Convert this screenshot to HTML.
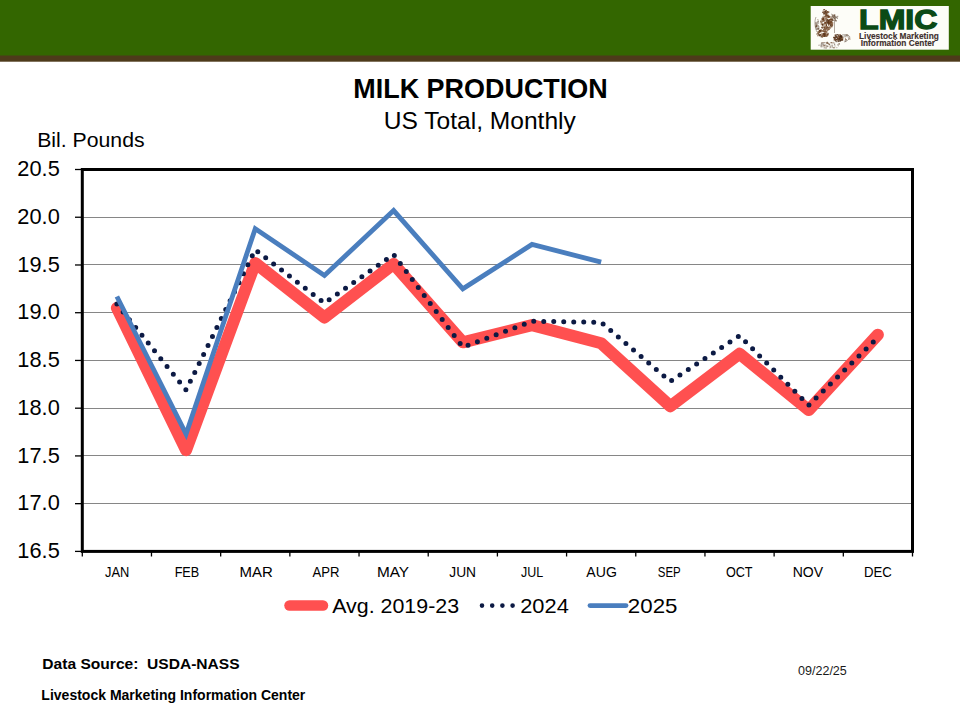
<!DOCTYPE html>
<html><head><meta charset="utf-8"><title>Milk Production</title>
<style>
html,body{margin:0;padding:0;background:#fff;}
body{width:960px;height:720px;overflow:hidden;position:relative;font-family:"Liberation Sans",sans-serif;}
svg{position:absolute;left:0;top:0;display:block;}
</style></head><body>
<svg width="960" height="720" viewBox="0 0 960 720">
<rect x="0" y="0" width="960" height="61.7" fill="#4d3a1a"/>
<rect x="0" y="0" width="960" height="55.5" fill="#336600"/>
<rect x="810.7" y="6" width="138.1" height="43.7" fill="#fdfdf8"/>
<g><rect x="824.5" y="12.5" width="1.5" height="0.8" fill="#8b6446" opacity="0.55"/><rect x="822.7" y="10.1" width="1.0" height="0.8" fill="#6a3c1c" opacity="0.53"/><rect x="826.5" y="12.6" width="1.8" height="0.9" fill="#4e2a12" opacity="0.82"/><rect x="824.4" y="11.1" width="1.5" height="0.8" fill="#4e2a12" opacity="0.52"/><rect x="825.9" y="10.2" width="0.9" height="0.9" fill="#6a3c1c" opacity="0.78"/><rect x="824.6" y="10.6" width="1.4" height="0.9" fill="#4e2a12" opacity="0.77"/><rect x="825.6" y="11.8" width="1.0" height="1.6" fill="#6a3c1c" opacity="0.89"/><rect x="822.4" y="12.1" width="1.2" height="1.0" fill="#4e2a12" opacity="0.85"/><rect x="825.1" y="13.8" width="1.4" height="1.8" fill="#8b6446" opacity="0.72"/><rect x="824.4" y="11.0" width="1.4" height="0.9" fill="#6a3c1c" opacity="0.58"/><rect x="824.4" y="11.5" width="1.6" height="1.7" fill="#8b6446" opacity="0.89"/><rect x="825.7" y="9.9" width="1.2" height="1.3" fill="#6a3c1c" opacity="0.53"/><rect x="826.2" y="12.4" width="1.6" height="0.8" fill="#8b6446" opacity="0.85"/><rect x="823.3" y="9.1" width="1.8" height="1.1" fill="#6a3c1c" opacity="0.94"/><rect x="823.4" y="13.9" width="1.2" height="1.5" fill="#6a3c1c" opacity="0.53"/><rect x="825.1" y="10.4" width="1.0" height="1.2" fill="#6a3c1c" opacity="0.54"/><rect x="823.0" y="12.2" width="1.8" height="1.8" fill="#8b6446" opacity="0.64"/><rect x="823.6" y="12.4" width="1.8" height="1.9" fill="#4e2a12" opacity="0.54"/><rect x="826.3" y="13.5" width="0.7" height="1.8" fill="#4e2a12" opacity="0.63"/><rect x="826.8" y="11.5" width="1.2" height="1.4" fill="#4e2a12" opacity="0.85"/><rect x="822.8" y="11.3" width="1.6" height="0.8" fill="#8b6446" opacity="0.90"/><rect x="823.6" y="12.7" width="0.8" height="1.5" fill="#4e2a12" opacity="0.60"/><rect x="826.9" y="11.3" width="0.8" height="1.5" fill="#4e2a12" opacity="0.50"/><rect x="825.5" y="12.3" width="1.2" height="0.7" fill="#4e2a12" opacity="0.81"/><rect x="825.8" y="12.7" width="1.2" height="1.2" fill="#4e2a12" opacity="0.56"/><rect x="822.2" y="11.7" width="1.3" height="1.1" fill="#4e2a12" opacity="0.55"/><rect x="824.2" y="12.8" width="1.8" height="0.9" fill="#4e2a12" opacity="0.60"/><rect x="826.6" y="11.0" width="1.6" height="1.9" fill="#8b6446" opacity="0.65"/><rect x="824.5" y="10.8" width="1.8" height="1.4" fill="#4e2a12" opacity="0.68"/><rect x="825.4" y="13.7" width="1.4" height="1.5" fill="#8b6446" opacity="0.91"/><rect x="827.6" y="11.2" width="1.7" height="1.8" fill="#8b6446" opacity="0.90"/><rect x="825.6" y="13.5" width="1.7" height="2.0" fill="#6a3c1c" opacity="0.74"/><rect x="825.8" y="13.7" width="1.1" height="1.8" fill="#8b6446" opacity="0.99"/><rect x="826.6" y="11.0" width="1.0" height="1.0" fill="#4e2a12" opacity="0.67"/><rect x="822.2" y="11.8" width="1.5" height="0.7" fill="#8b6446" opacity="0.67"/><rect x="822.6" y="16.3" width="0.9" height="1.2" fill="#6a3c1c" opacity="0.74"/><rect x="828.3" y="28.4" width="1.1" height="1.7" fill="#9a7a60" opacity="0.73"/><rect x="825.9" y="19.7" width="0.9" height="2.0" fill="#4e2a12" opacity="0.58"/><rect x="830.5" y="18.0" width="0.9" height="1.8" fill="#9a7a60" opacity="0.83"/><rect x="823.4" y="26.8" width="0.9" height="0.7" fill="#4e2a12" opacity="0.76"/><rect x="829.6" y="19.9" width="1.8" height="1.8" fill="#6a3c1c" opacity="0.51"/><rect x="827.0" y="27.5" width="1.7" height="1.1" fill="#9a7a60" opacity="0.92"/><rect x="830.8" y="24.6" width="1.9" height="1.6" fill="#9a7a60" opacity="0.91"/><rect x="827.6" y="20.0" width="0.9" height="1.4" fill="#9a7a60" opacity="0.89"/><rect x="821.9" y="17.6" width="0.9" height="0.9" fill="#4e2a12" opacity="0.78"/><rect x="824.0" y="27.1" width="1.4" height="1.7" fill="#4e2a12" opacity="0.94"/><rect x="828.5" y="23.2" width="0.8" height="0.8" fill="#9a7a60" opacity="0.78"/><rect x="826.4" y="14.4" width="1.3" height="1.5" fill="#6a3c1c" opacity="0.85"/><rect x="821.8" y="23.7" width="1.3" height="1.9" fill="#7c5030" opacity="0.96"/><rect x="828.1" y="19.8" width="1.3" height="1.2" fill="#9a7a60" opacity="0.72"/><rect x="828.6" y="23.7" width="0.8" height="1.6" fill="#4e2a12" opacity="0.95"/><rect x="828.9" y="27.6" width="1.6" height="0.9" fill="#6a3c1c" opacity="0.98"/><rect x="827.1" y="29.7" width="1.2" height="1.3" fill="#6a3c1c" opacity="0.58"/><rect x="822.1" y="24.4" width="1.1" height="1.0" fill="#7c5030" opacity="0.55"/><rect x="823.7" y="25.5" width="1.3" height="1.6" fill="#9a7a60" opacity="0.67"/><rect x="822.9" y="18.0" width="0.8" height="2.0" fill="#6a3c1c" opacity="0.99"/><rect x="828.4" y="24.5" width="0.8" height="1.7" fill="#7c5030" opacity="0.88"/><rect x="828.3" y="15.3" width="1.6" height="1.9" fill="#9a7a60" opacity="0.57"/><rect x="830.0" y="19.1" width="1.6" height="0.8" fill="#4e2a12" opacity="0.90"/><rect x="828.3" y="28.9" width="1.0" height="0.7" fill="#4e2a12" opacity="0.90"/><rect x="830.8" y="25.7" width="0.8" height="1.8" fill="#9a7a60" opacity="0.51"/><rect x="829.9" y="21.8" width="1.9" height="1.5" fill="#4e2a12" opacity="0.76"/><rect x="826.1" y="24.6" width="0.9" height="0.8" fill="#6a3c1c" opacity="0.97"/><rect x="823.0" y="17.8" width="1.0" height="1.3" fill="#6a3c1c" opacity="0.64"/><rect x="828.0" y="14.5" width="0.7" height="0.7" fill="#6a3c1c" opacity="0.76"/><rect x="826.1" y="27.3" width="1.6" height="1.5" fill="#9a7a60" opacity="0.77"/><rect x="830.5" y="16.9" width="1.1" height="1.0" fill="#6a3c1c" opacity="0.67"/><rect x="828.5" y="16.2" width="1.5" height="1.2" fill="#7c5030" opacity="0.99"/><rect x="826.4" y="21.2" width="1.5" height="1.8" fill="#9a7a60" opacity="0.58"/><rect x="830.7" y="25.7" width="1.8" height="1.6" fill="#7c5030" opacity="0.80"/><rect x="825.6" y="20.4" width="0.9" height="1.0" fill="#4e2a12" opacity="0.63"/><rect x="831.7" y="20.1" width="1.4" height="1.0" fill="#7c5030" opacity="0.61"/><rect x="827.4" y="26.2" width="0.8" height="1.1" fill="#6a3c1c" opacity="0.62"/><rect x="826.3" y="19.6" width="1.8" height="0.9" fill="#4e2a12" opacity="0.70"/><rect x="824.5" y="28.0" width="0.8" height="1.9" fill="#6a3c1c" opacity="0.83"/><rect x="824.8" y="14.7" width="1.2" height="1.1" fill="#9a7a60" opacity="0.57"/><rect x="825.2" y="15.7" width="0.8" height="1.8" fill="#9a7a60" opacity="0.87"/><rect x="826.9" y="19.2" width="1.4" height="1.4" fill="#4e2a12" opacity="0.91"/><rect x="821.1" y="18.2" width="1.6" height="1.6" fill="#6a3c1c" opacity="0.54"/><rect x="830.6" y="23.7" width="1.9" height="1.2" fill="#9a7a60" opacity="0.78"/><rect x="822.7" y="17.4" width="1.6" height="1.3" fill="#4e2a12" opacity="0.73"/><rect x="831.2" y="25.3" width="1.9" height="0.8" fill="#4e2a12" opacity="0.87"/><rect x="820.7" y="23.2" width="1.8" height="1.0" fill="#6a3c1c" opacity="0.62"/><rect x="823.6" y="17.6" width="1.8" height="0.8" fill="#7c5030" opacity="0.88"/><rect x="822.4" y="17.7" width="0.8" height="0.9" fill="#7c5030" opacity="0.83"/><rect x="824.3" y="16.1" width="0.9" height="1.3" fill="#9a7a60" opacity="0.63"/><rect x="823.7" y="16.1" width="1.6" height="1.1" fill="#7c5030" opacity="0.73"/><rect x="824.0" y="22.6" width="1.9" height="1.0" fill="#4e2a12" opacity="0.97"/><rect x="830.0" y="22.6" width="1.8" height="2.0" fill="#9a7a60" opacity="1.00"/><rect x="821.6" y="27.0" width="1.9" height="0.8" fill="#4e2a12" opacity="0.57"/><rect x="820.2" y="20.8" width="0.9" height="1.8" fill="#7c5030" opacity="0.94"/><rect x="825.2" y="18.3" width="1.9" height="1.3" fill="#4e2a12" opacity="0.58"/><rect x="830.7" y="20.0" width="1.2" height="1.6" fill="#9a7a60" opacity="0.67"/><rect x="823.8" y="28.7" width="0.7" height="1.7" fill="#9a7a60" opacity="0.56"/><rect x="830.5" y="19.0" width="1.9" height="1.1" fill="#7c5030" opacity="0.53"/><rect x="821.7" y="26.8" width="0.8" height="1.9" fill="#7c5030" opacity="0.93"/><rect x="825.7" y="23.8" width="1.6" height="1.5" fill="#6a3c1c" opacity="0.62"/><rect x="825.6" y="27.7" width="0.9" height="1.2" fill="#9a7a60" opacity="0.94"/><rect x="827.8" y="16.1" width="1.9" height="1.9" fill="#6a3c1c" opacity="0.86"/><rect x="830.9" y="24.1" width="1.3" height="1.7" fill="#7c5030" opacity="0.74"/><rect x="829.8" y="18.9" width="0.9" height="1.2" fill="#7c5030" opacity="0.65"/><rect x="825.6" y="14.1" width="1.0" height="1.6" fill="#7c5030" opacity="0.74"/><rect x="825.0" y="19.6" width="1.5" height="0.8" fill="#9a7a60" opacity="0.78"/><rect x="822.7" y="23.3" width="1.7" height="1.3" fill="#6a3c1c" opacity="0.62"/><rect x="828.0" y="27.3" width="1.1" height="1.2" fill="#6a3c1c" opacity="0.94"/><rect x="826.0" y="16.9" width="1.2" height="1.4" fill="#9a7a60" opacity="0.64"/><rect x="826.1" y="16.4" width="1.4" height="1.2" fill="#6a3c1c" opacity="0.55"/><rect x="829.0" y="19.0" width="1.5" height="1.3" fill="#7c5030" opacity="0.92"/><rect x="826.6" y="21.2" width="0.7" height="1.6" fill="#9a7a60" opacity="0.98"/><rect x="824.4" y="22.1" width="1.9" height="1.9" fill="#9a7a60" opacity="0.99"/><rect x="826.0" y="24.6" width="0.9" height="1.4" fill="#4e2a12" opacity="0.97"/><rect x="825.1" y="15.7" width="1.7" height="1.3" fill="#4e2a12" opacity="0.50"/><rect x="829.2" y="26.3" width="0.7" height="1.6" fill="#6a3c1c" opacity="0.81"/><rect x="822.1" y="21.1" width="1.7" height="0.8" fill="#7c5030" opacity="0.76"/><rect x="822.8" y="19.5" width="1.0" height="1.5" fill="#4e2a12" opacity="0.77"/><rect x="829.2" y="21.9" width="1.1" height="1.8" fill="#6a3c1c" opacity="0.74"/><rect x="826.3" y="26.0" width="1.9" height="1.6" fill="#7c5030" opacity="0.53"/><rect x="827.9" y="29.1" width="1.5" height="0.8" fill="#6a3c1c" opacity="0.83"/><rect x="828.5" y="20.3" width="0.7" height="1.1" fill="#9a7a60" opacity="0.68"/><rect x="825.6" y="22.4" width="1.1" height="1.8" fill="#4e2a12" opacity="0.60"/><rect x="829.3" y="21.2" width="1.8" height="1.0" fill="#6a3c1c" opacity="0.63"/><rect x="827.5" y="20.3" width="1.5" height="1.5" fill="#6a3c1c" opacity="0.74"/><rect x="827.2" y="21.0" width="1.5" height="1.9" fill="#4e2a12" opacity="0.61"/><rect x="828.2" y="21.5" width="0.8" height="0.8" fill="#9a7a60" opacity="0.72"/><rect x="825.2" y="17.6" width="0.8" height="0.8" fill="#6a3c1c" opacity="0.66"/><rect x="828.3" y="29.1" width="1.7" height="0.7" fill="#9a7a60" opacity="0.92"/><rect x="830.0" y="21.5" width="0.8" height="0.8" fill="#4e2a12" opacity="0.68"/><rect x="828.0" y="21.2" width="2.0" height="1.0" fill="#7c5030" opacity="0.88"/><rect x="824.1" y="28.7" width="0.8" height="1.6" fill="#6a3c1c" opacity="0.69"/><rect x="828.3" y="20.3" width="1.2" height="1.9" fill="#4e2a12" opacity="0.82"/><rect x="826.1" y="28.3" width="1.2" height="1.2" fill="#9a7a60" opacity="0.53"/><rect x="828.7" y="20.0" width="1.7" height="1.9" fill="#7c5030" opacity="0.68"/><rect x="823.0" y="28.7" width="0.8" height="1.7" fill="#7c5030" opacity="0.96"/><rect x="824.5" y="28.5" width="1.5" height="1.7" fill="#4e2a12" opacity="0.51"/><rect x="826.4" y="27.5" width="1.9" height="1.9" fill="#9a7a60" opacity="0.89"/><rect x="830.6" y="18.3" width="0.9" height="1.3" fill="#4e2a12" opacity="0.90"/><rect x="825.6" y="14.8" width="1.7" height="1.5" fill="#7c5030" opacity="0.93"/><rect x="820.8" y="23.7" width="1.5" height="1.4" fill="#9a7a60" opacity="0.88"/><rect x="826.0" y="24.0" width="0.7" height="1.4" fill="#7c5030" opacity="0.58"/><rect x="824.3" y="23.2" width="0.8" height="1.5" fill="#6a3c1c" opacity="0.55"/><rect x="820.9" y="22.1" width="1.3" height="1.0" fill="#9a7a60" opacity="0.73"/><rect x="828.3" y="19.6" width="1.4" height="1.7" fill="#4e2a12" opacity="0.89"/><rect x="825.1" y="26.1" width="1.0" height="1.0" fill="#7c5030" opacity="0.60"/><rect x="826.0" y="26.0" width="0.9" height="1.8" fill="#6a3c1c" opacity="0.66"/><rect x="821.3" y="26.8" width="1.4" height="1.0" fill="#4e2a12" opacity="0.83"/><rect x="827.9" y="21.9" width="1.3" height="1.8" fill="#9a7a60" opacity="0.96"/><rect x="829.1" y="23.1" width="0.9" height="0.9" fill="#6a3c1c" opacity="0.97"/><rect x="822.1" y="27.4" width="1.3" height="1.0" fill="#4e2a12" opacity="0.55"/><rect x="822.1" y="18.4" width="1.0" height="1.2" fill="#6a3c1c" opacity="0.52"/><rect x="827.2" y="22.0" width="1.7" height="1.9" fill="#4e2a12" opacity="0.91"/><rect x="822.9" y="24.6" width="1.5" height="0.8" fill="#4e2a12" opacity="0.90"/><rect x="824.6" y="21.4" width="0.8" height="1.2" fill="#6a3c1c" opacity="0.82"/><rect x="828.0" y="23.8" width="1.6" height="1.2" fill="#7c5030" opacity="0.83"/><rect x="824.8" y="22.9" width="1.7" height="1.8" fill="#9a7a60" opacity="0.71"/><rect x="829.9" y="16.0" width="1.2" height="1.0" fill="#9a7a60" opacity="0.60"/><rect x="831.7" y="22.3" width="1.3" height="1.8" fill="#9a7a60" opacity="0.79"/><rect x="822.5" y="27.3" width="0.9" height="0.8" fill="#6a3c1c" opacity="0.82"/><rect x="827.5" y="20.7" width="1.5" height="1.2" fill="#6a3c1c" opacity="0.57"/><rect x="825.1" y="27.6" width="1.9" height="0.8" fill="#9a7a60" opacity="0.88"/><rect x="827.4" y="15.1" width="1.1" height="1.8" fill="#4e2a12" opacity="0.99"/><rect x="824.6" y="22.2" width="1.9" height="1.2" fill="#6a3c1c" opacity="0.82"/><rect x="828.9" y="17.1" width="1.5" height="1.0" fill="#9a7a60" opacity="0.59"/><rect x="826.8" y="27.0" width="1.4" height="1.2" fill="#4e2a12" opacity="0.57"/><rect x="831.3" y="20.7" width="1.0" height="1.8" fill="#4e2a12" opacity="0.83"/><rect x="824.3" y="26.5" width="1.3" height="1.8" fill="#7c5030" opacity="0.82"/><rect x="824.9" y="25.7" width="1.2" height="1.2" fill="#9a7a60" opacity="0.59"/><rect x="832.0" y="22.2" width="1.3" height="1.3" fill="#9a7a60" opacity="0.92"/><rect x="827.4" y="17.3" width="0.8" height="1.2" fill="#7c5030" opacity="0.55"/><rect x="822.0" y="24.0" width="0.8" height="1.5" fill="#4e2a12" opacity="0.96"/><rect x="824.0" y="28.3" width="0.8" height="1.7" fill="#9a7a60" opacity="0.83"/><rect x="826.2" y="20.7" width="0.8" height="1.5" fill="#4e2a12" opacity="0.60"/><rect x="830.2" y="21.4" width="1.9" height="1.9" fill="#6a3c1c" opacity="0.84"/><rect x="825.5" y="18.3" width="1.8" height="1.5" fill="#7c5030" opacity="0.58"/><rect x="828.5" y="19.5" width="1.8" height="0.9" fill="#9a7a60" opacity="0.60"/><rect x="825.7" y="27.7" width="1.1" height="0.7" fill="#6a3c1c" opacity="0.70"/><rect x="823.9" y="18.8" width="1.1" height="1.2" fill="#7c5030" opacity="0.56"/><rect x="821.3" y="20.8" width="1.2" height="1.8" fill="#4e2a12" opacity="0.63"/><rect x="820.6" y="20.4" width="1.7" height="1.2" fill="#9a7a60" opacity="1.00"/><rect x="822.8" y="19.8" width="1.7" height="1.3" fill="#6a3c1c" opacity="0.81"/><rect x="829.2" y="20.9" width="1.4" height="1.1" fill="#7c5030" opacity="0.87"/><rect x="825.9" y="18.2" width="1.1" height="1.5" fill="#9a7a60" opacity="0.76"/><rect x="827.7" y="20.2" width="1.0" height="1.5" fill="#4e2a12" opacity="0.53"/><rect x="823.0" y="20.2" width="1.4" height="1.4" fill="#9a7a60" opacity="0.79"/><rect x="823.7" y="20.1" width="1.5" height="1.3" fill="#6a3c1c" opacity="0.51"/><rect x="827.6" y="15.6" width="1.3" height="0.8" fill="#6a3c1c" opacity="0.94"/><rect x="826.8" y="17.0" width="1.0" height="0.7" fill="#7c5030" opacity="0.80"/><rect x="821.9" y="19.1" width="1.4" height="1.3" fill="#6a3c1c" opacity="0.95"/><rect x="830.2" y="23.6" width="1.2" height="1.0" fill="#4e2a12" opacity="0.96"/><rect x="829.7" y="25.8" width="1.6" height="1.0" fill="#9a7a60" opacity="0.60"/><rect x="822.7" y="18.4" width="1.5" height="1.8" fill="#6a3c1c" opacity="0.75"/><rect x="830.4" y="24.5" width="2.0" height="1.6" fill="#9a7a60" opacity="0.86"/><rect x="831.5" y="22.3" width="1.7" height="1.3" fill="#9a7a60" opacity="0.59"/><rect x="829.1" y="21.9" width="1.5" height="0.9" fill="#7c5030" opacity="0.86"/><rect x="825.6" y="27.9" width="1.3" height="1.7" fill="#7c5030" opacity="0.65"/><rect x="831.1" y="18.7" width="0.8" height="1.4" fill="#6a3c1c" opacity="0.63"/><rect x="826.5" y="28.9" width="1.9" height="1.7" fill="#7c5030" opacity="0.60"/><rect x="822.4" y="26.0" width="1.2" height="1.8" fill="#9a7a60" opacity="0.74"/><rect x="825.5" y="21.9" width="0.7" height="1.9" fill="#6a3c1c" opacity="0.79"/><rect x="825.0" y="25.4" width="1.5" height="0.8" fill="#6a3c1c" opacity="0.57"/><rect x="827.9" y="22.4" width="1.9" height="1.1" fill="#6a3c1c" opacity="0.85"/><rect x="828.2" y="22.6" width="1.5" height="0.8" fill="#4e2a12" opacity="0.87"/><rect x="830.2" y="24.5" width="1.2" height="1.8" fill="#4e2a12" opacity="0.94"/><rect x="826.2" y="15.3" width="1.2" height="1.0" fill="#6a3c1c" opacity="0.56"/><rect x="831.4" y="23.6" width="1.8" height="1.5" fill="#7c5030" opacity="0.74"/><rect x="829.6" y="27.3" width="1.5" height="1.1" fill="#7c5030" opacity="0.71"/><rect x="824.8" y="33.3" width="1.1" height="1.6" fill="#6a3c1c" opacity="0.96"/><rect x="822.5" y="29.9" width="1.3" height="1.1" fill="#8b6446" opacity="0.52"/><rect x="818.9" y="34.4" width="1.7" height="1.2" fill="#8b6446" opacity="0.52"/><rect x="817.7" y="31.6" width="1.8" height="1.4" fill="#6a3c1c" opacity="0.59"/><rect x="824.5" y="33.0" width="1.7" height="2.0" fill="#4e2a12" opacity="0.67"/><rect x="825.8" y="34.9" width="1.8" height="2.0" fill="#8b6446" opacity="0.67"/><rect x="823.4" y="31.2" width="1.9" height="1.1" fill="#4e2a12" opacity="0.97"/><rect x="822.3" y="34.6" width="1.9" height="1.7" fill="#6a3c1c" opacity="0.89"/><rect x="820.4" y="29.6" width="1.5" height="1.2" fill="#6a3c1c" opacity="0.96"/><rect x="825.7" y="30.8" width="1.2" height="1.5" fill="#6a3c1c" opacity="0.60"/><rect x="821.6" y="36.8" width="1.4" height="1.2" fill="#8b6446" opacity="0.62"/><rect x="818.1" y="33.7" width="1.7" height="1.7" fill="#8b6446" opacity="0.52"/><rect x="818.5" y="31.6" width="1.8" height="1.3" fill="#8b6446" opacity="0.87"/><rect x="823.8" y="35.3" width="1.7" height="1.5" fill="#4e2a12" opacity="0.67"/><rect x="819.1" y="30.4" width="1.4" height="1.0" fill="#8b6446" opacity="0.91"/><rect x="818.5" y="30.7" width="2.0" height="1.6" fill="#8b6446" opacity="0.76"/><rect x="823.7" y="34.9" width="0.9" height="2.0" fill="#8b6446" opacity="1.00"/><rect x="824.3" y="35.8" width="1.0" height="0.9" fill="#4e2a12" opacity="0.90"/><rect x="821.6" y="30.4" width="1.0" height="1.5" fill="#4e2a12" opacity="0.64"/><rect x="824.8" y="31.2" width="0.7" height="1.8" fill="#6a3c1c" opacity="0.85"/><rect x="817.6" y="33.0" width="1.3" height="0.9" fill="#8b6446" opacity="0.87"/><rect x="824.7" y="33.1" width="1.8" height="1.6" fill="#8b6446" opacity="0.87"/><rect x="819.7" y="33.9" width="1.6" height="1.8" fill="#8b6446" opacity="0.85"/><rect x="824.7" y="30.4" width="1.5" height="1.3" fill="#6a3c1c" opacity="0.63"/><rect x="820.4" y="29.4" width="1.0" height="1.2" fill="#8b6446" opacity="0.81"/><rect x="822.0" y="35.6" width="1.3" height="1.5" fill="#6a3c1c" opacity="0.76"/><rect x="819.3" y="29.8" width="1.9" height="1.1" fill="#4e2a12" opacity="0.69"/><rect x="816.6" y="33.3" width="0.7" height="1.4" fill="#4e2a12" opacity="0.86"/><rect x="824.3" y="32.5" width="1.2" height="1.8" fill="#6a3c1c" opacity="0.77"/><rect x="821.2" y="30.2" width="1.5" height="1.8" fill="#8b6446" opacity="0.67"/><rect x="821.8" y="30.3" width="2.0" height="0.9" fill="#8b6446" opacity="0.88"/><rect x="825.9" y="35.8" width="1.2" height="0.8" fill="#6a3c1c" opacity="0.69"/><rect x="823.4" y="33.4" width="1.9" height="1.5" fill="#8b6446" opacity="0.68"/><rect x="821.8" y="34.9" width="1.7" height="1.9" fill="#8b6446" opacity="0.99"/><rect x="827.4" y="32.9" width="1.3" height="0.9" fill="#4e2a12" opacity="0.90"/><rect x="819.5" y="31.0" width="1.4" height="1.0" fill="#4e2a12" opacity="0.68"/><rect x="818.8" y="30.2" width="1.8" height="1.3" fill="#6a3c1c" opacity="0.88"/><rect x="819.1" y="30.1" width="1.3" height="1.7" fill="#4e2a12" opacity="0.63"/><rect x="820.0" y="34.4" width="1.3" height="0.9" fill="#4e2a12" opacity="0.90"/><rect x="823.0" y="30.7" width="1.6" height="1.1" fill="#6a3c1c" opacity="0.71"/><rect x="819.1" y="30.5" width="1.2" height="1.9" fill="#6a3c1c" opacity="0.53"/><rect x="824.5" y="29.6" width="1.7" height="0.9" fill="#6a3c1c" opacity="0.82"/><rect x="822.6" y="33.0" width="1.9" height="1.6" fill="#6a3c1c" opacity="0.80"/><rect x="817.5" y="31.2" width="0.9" height="1.3" fill="#4e2a12" opacity="0.60"/><rect x="818.7" y="34.7" width="1.5" height="1.6" fill="#4e2a12" opacity="0.83"/><rect x="825.8" y="30.8" width="1.8" height="1.0" fill="#8b6446" opacity="0.61"/><rect x="826.4" y="34.7" width="1.6" height="0.9" fill="#4e2a12" opacity="0.63"/><rect x="822.2" y="34.5" width="1.3" height="0.8" fill="#6a3c1c" opacity="0.95"/><rect x="821.2" y="31.1" width="0.9" height="1.5" fill="#8b6446" opacity="0.50"/><rect x="824.0" y="30.7" width="1.4" height="1.6" fill="#6a3c1c" opacity="0.69"/><rect x="817.3" y="34.9" width="0.8" height="1.5" fill="#8b6446" opacity="0.82"/><rect x="823.2" y="33.1" width="1.7" height="2.0" fill="#4e2a12" opacity="0.76"/><rect x="816.8" y="33.4" width="0.7" height="1.6" fill="#8b6446" opacity="0.56"/><rect x="825.7" y="34.8" width="1.1" height="1.7" fill="#8b6446" opacity="0.89"/><rect x="822.9" y="35.6" width="1.2" height="1.4" fill="#6a3c1c" opacity="0.65"/><rect x="823.6" y="30.8" width="1.4" height="1.1" fill="#8b6446" opacity="0.67"/><rect x="823.1" y="35.7" width="0.9" height="1.0" fill="#8b6446" opacity="0.65"/><rect x="818.2" y="31.4" width="1.7" height="0.8" fill="#8b6446" opacity="0.78"/><rect x="818.5" y="34.7" width="1.2" height="0.8" fill="#4e2a12" opacity="0.59"/><rect x="825.8" y="31.5" width="1.6" height="1.7" fill="#8b6446" opacity="0.81"/><rect x="818.8" y="30.9" width="1.6" height="1.5" fill="#8b6446" opacity="0.54"/><rect x="826.2" y="33.8" width="1.5" height="0.9" fill="#8b6446" opacity="0.59"/><rect x="826.7" y="33.8" width="1.9" height="1.6" fill="#6a3c1c" opacity="0.94"/><rect x="824.0" y="34.7" width="1.6" height="1.8" fill="#4e2a12" opacity="0.71"/><rect x="820.5" y="35.4" width="1.5" height="1.9" fill="#4e2a12" opacity="0.75"/><rect x="817.1" y="32.5" width="1.7" height="1.2" fill="#8b6446" opacity="0.96"/><rect x="821.4" y="33.2" width="1.2" height="1.5" fill="#8b6446" opacity="0.99"/><rect x="818.5" y="33.4" width="0.8" height="1.5" fill="#4e2a12" opacity="0.95"/><rect x="819.5" y="31.1" width="0.7" height="1.6" fill="#4e2a12" opacity="0.61"/><rect x="824.7" y="34.9" width="1.1" height="1.4" fill="#6a3c1c" opacity="0.87"/><rect x="837.9" y="38.3" width="1.7" height="1.6" fill="#3e220e" opacity="0.86"/><rect x="840.6" y="39.0" width="1.6" height="1.3" fill="#5c3418" opacity="0.96"/><rect x="838.3" y="37.7" width="0.8" height="1.8" fill="#7c5030" opacity="0.91"/><rect x="839.7" y="38.5" width="1.6" height="0.9" fill="#5c3418" opacity="0.80"/><rect x="835.7" y="40.9" width="1.6" height="1.3" fill="#3e220e" opacity="0.57"/><rect x="838.3" y="35.3" width="1.5" height="1.5" fill="#5c3418" opacity="0.74"/><rect x="838.0" y="35.0" width="1.1" height="1.7" fill="#5c3418" opacity="0.65"/><rect x="841.6" y="38.9" width="1.6" height="1.8" fill="#5c3418" opacity="0.93"/><rect x="837.4" y="37.0" width="0.9" height="1.8" fill="#7c5030" opacity="0.71"/><rect x="839.6" y="36.0" width="1.6" height="1.5" fill="#3e220e" opacity="0.90"/><rect x="837.5" y="37.7" width="1.0" height="1.2" fill="#7c5030" opacity="0.96"/><rect x="837.8" y="34.1" width="1.1" height="0.9" fill="#7c5030" opacity="0.57"/><rect x="841.5" y="37.0" width="1.4" height="1.7" fill="#5c3418" opacity="0.67"/><rect x="840.4" y="38.9" width="1.7" height="1.0" fill="#7c5030" opacity="0.97"/><rect x="837.9" y="40.4" width="1.6" height="1.3" fill="#3e220e" opacity="0.96"/><rect x="837.1" y="37.3" width="1.2" height="1.4" fill="#7c5030" opacity="0.90"/><rect x="837.8" y="35.7" width="1.5" height="1.9" fill="#7c5030" opacity="0.66"/><rect x="835.5" y="37.4" width="1.0" height="0.8" fill="#7c5030" opacity="0.64"/><rect x="835.1" y="36.4" width="1.7" height="1.8" fill="#3e220e" opacity="0.52"/><rect x="840.3" y="37.5" width="0.8" height="1.5" fill="#3e220e" opacity="0.58"/><rect x="835.3" y="36.2" width="1.4" height="0.7" fill="#3e220e" opacity="0.60"/><rect x="839.8" y="35.4" width="1.5" height="1.0" fill="#5c3418" opacity="0.71"/><rect x="841.2" y="36.4" width="1.8" height="2.0" fill="#5c3418" opacity="0.92"/><rect x="835.1" y="40.7" width="1.2" height="0.7" fill="#3e220e" opacity="0.78"/><rect x="839.6" y="35.6" width="1.9" height="1.9" fill="#3e220e" opacity="0.93"/><rect x="834.7" y="34.7" width="1.6" height="0.8" fill="#5c3418" opacity="0.78"/><rect x="834.7" y="34.6" width="1.6" height="1.2" fill="#5c3418" opacity="0.92"/><rect x="836.0" y="38.8" width="1.6" height="0.9" fill="#5c3418" opacity="0.97"/><rect x="840.6" y="38.5" width="0.7" height="1.9" fill="#5c3418" opacity="0.89"/><rect x="836.6" y="34.5" width="2.0" height="0.8" fill="#3e220e" opacity="0.66"/><rect x="839.5" y="37.6" width="1.7" height="1.5" fill="#5c3418" opacity="0.88"/><rect x="839.5" y="38.8" width="1.0" height="0.9" fill="#5c3418" opacity="0.69"/><rect x="833.7" y="38.7" width="1.9" height="1.9" fill="#5c3418" opacity="0.86"/><rect x="837.8" y="38.2" width="1.9" height="1.0" fill="#7c5030" opacity="0.93"/><rect x="838.8" y="36.6" width="1.3" height="0.8" fill="#5c3418" opacity="0.92"/><rect x="835.4" y="35.7" width="1.1" height="1.8" fill="#5c3418" opacity="0.56"/><rect x="835.8" y="39.1" width="1.7" height="0.9" fill="#5c3418" opacity="0.78"/><rect x="840.1" y="40.3" width="1.0" height="1.2" fill="#3e220e" opacity="0.51"/><rect x="835.3" y="36.6" width="1.7" height="1.0" fill="#3e220e" opacity="0.66"/><rect x="838.7" y="36.8" width="2.0" height="0.8" fill="#7c5030" opacity="0.96"/><rect x="833.7" y="36.2" width="0.9" height="1.7" fill="#5c3418" opacity="0.72"/><rect x="837.3" y="39.4" width="1.0" height="1.2" fill="#5c3418" opacity="0.95"/><rect x="841.1" y="38.6" width="1.1" height="2.0" fill="#3e220e" opacity="0.72"/><rect x="834.3" y="37.4" width="1.3" height="1.7" fill="#7c5030" opacity="0.64"/><rect x="836.9" y="38.1" width="1.2" height="1.1" fill="#3e220e" opacity="0.57"/><rect x="839.2" y="40.5" width="1.6" height="1.0" fill="#3e220e" opacity="0.91"/><rect x="840.5" y="35.4" width="1.7" height="0.9" fill="#3e220e" opacity="0.81"/><rect x="836.4" y="34.2" width="1.5" height="1.0" fill="#3e220e" opacity="0.85"/><rect x="833.4" y="37.1" width="1.9" height="1.4" fill="#5c3418" opacity="0.67"/><rect x="839.8" y="34.5" width="1.3" height="0.7" fill="#5c3418" opacity="0.57"/><rect x="836.4" y="35.9" width="1.4" height="2.0" fill="#3e220e" opacity="0.58"/><rect x="835.1" y="39.6" width="0.7" height="1.4" fill="#5c3418" opacity="0.98"/><rect x="839.9" y="38.5" width="1.0" height="1.8" fill="#5c3418" opacity="0.89"/><rect x="839.8" y="35.4" width="1.9" height="1.1" fill="#3e220e" opacity="0.98"/><rect x="834.3" y="37.6" width="1.4" height="1.4" fill="#3e220e" opacity="0.62"/><rect x="840.5" y="39.1" width="0.9" height="1.1" fill="#7c5030" opacity="0.91"/><rect x="838.9" y="37.7" width="1.6" height="1.0" fill="#3e220e" opacity="0.92"/><rect x="835.5" y="35.5" width="1.0" height="1.3" fill="#5c3418" opacity="0.93"/><rect x="837.3" y="36.7" width="0.9" height="1.3" fill="#7c5030" opacity="0.88"/><rect x="838.7" y="38.3" width="1.8" height="1.4" fill="#3e220e" opacity="0.93"/><rect x="839.5" y="39.8" width="1.7" height="0.9" fill="#3e220e" opacity="0.97"/><rect x="835.3" y="39.1" width="1.8" height="1.4" fill="#5c3418" opacity="0.99"/><rect x="840.1" y="38.2" width="1.2" height="1.8" fill="#7c5030" opacity="0.72"/><rect x="841.5" y="37.1" width="1.9" height="1.8" fill="#7c5030" opacity="0.53"/><rect x="833.1" y="37.1" width="1.9" height="1.0" fill="#5c3418" opacity="0.83"/><rect x="839.0" y="37.6" width="0.9" height="1.1" fill="#3e220e" opacity="0.75"/><rect x="839.2" y="37.7" width="2.0" height="1.7" fill="#5c3418" opacity="0.82"/><rect x="839.0" y="34.2" width="1.9" height="0.7" fill="#7c5030" opacity="0.81"/><rect x="840.6" y="36.0" width="1.5" height="1.7" fill="#3e220e" opacity="0.81"/><rect x="837.5" y="40.2" width="1.3" height="1.9" fill="#5c3418" opacity="0.56"/><rect x="845.1" y="38.2" width="0.8" height="1.9" fill="#8b6446" opacity="0.95"/><rect x="848.7" y="38.4" width="1.9" height="1.3" fill="#8b6446" opacity="0.57"/><rect x="845.3" y="39.1" width="1.1" height="1.0" fill="#9a9088" opacity="0.87"/><rect x="845.4" y="39.3" width="1.6" height="1.0" fill="#b0a69c" opacity="0.60"/><rect x="845.3" y="34.7" width="1.4" height="1.5" fill="#b0a69c" opacity="0.91"/><rect x="848.3" y="37.4" width="0.9" height="1.4" fill="#8b6446" opacity="0.70"/><rect x="847.4" y="36.4" width="1.9" height="1.1" fill="#b0a69c" opacity="0.75"/><rect x="845.1" y="40.4" width="1.1" height="1.7" fill="#9a9088" opacity="0.78"/><rect x="844.1" y="35.7" width="1.6" height="1.4" fill="#b0a69c" opacity="0.68"/><rect x="846.2" y="34.5" width="2.0" height="1.6" fill="#9a9088" opacity="0.71"/><rect x="845.3" y="35.9" width="1.0" height="1.5" fill="#b0a69c" opacity="0.91"/><rect x="842.6" y="36.7" width="1.7" height="1.7" fill="#b0a69c" opacity="0.63"/><rect x="843.8" y="35.0" width="1.6" height="1.2" fill="#9a9088" opacity="0.50"/><rect x="846.3" y="34.3" width="1.3" height="2.0" fill="#8b6446" opacity="0.57"/><rect x="847.2" y="35.5" width="1.5" height="0.8" fill="#b0a69c" opacity="0.85"/><rect x="845.4" y="39.0" width="1.2" height="1.4" fill="#8b6446" opacity="0.69"/><rect x="844.4" y="39.8" width="1.8" height="1.3" fill="#b0a69c" opacity="0.65"/><rect x="842.5" y="36.3" width="1.3" height="1.2" fill="#9a9088" opacity="0.54"/><rect x="817.3" y="22.2" width="1.8" height="1.8" fill="#a0948a" opacity="0.60"/><rect x="815.1" y="26.8" width="0.7" height="0.8" fill="#6a4a30" opacity="0.95"/><rect x="816.1" y="28.5" width="1.1" height="1.5" fill="#a0948a" opacity="0.76"/><rect x="815.2" y="23.4" width="1.2" height="1.2" fill="#6a4a30" opacity="0.84"/><rect x="816.3" y="24.2" width="0.8" height="1.0" fill="#a0948a" opacity="0.69"/><rect x="815.5" y="26.8" width="1.4" height="1.8" fill="#a0948a" opacity="0.74"/><rect x="815.3" y="25.9" width="2.0" height="1.1" fill="#6a4a30" opacity="0.87"/><rect x="817.3" y="26.1" width="1.2" height="0.8" fill="#a0948a" opacity="0.76"/><rect x="817.7" y="27.9" width="1.6" height="1.8" fill="#6a4a30" opacity="0.94"/><rect x="815.9" y="25.2" width="1.1" height="1.4" fill="#6a4a30" opacity="0.95"/><rect x="816.2" y="24.8" width="1.4" height="0.8" fill="#6a4a30" opacity="1.00"/><rect x="816.3" y="23.0" width="1.2" height="1.7" fill="#a0948a" opacity="0.86"/><rect x="815.1" y="22.0" width="1.2" height="0.8" fill="#8a7a6c" opacity="0.83"/><rect x="816.9" y="28.3" width="1.4" height="1.0" fill="#6a4a30" opacity="0.95"/><rect x="815.9" y="23.8" width="1.0" height="1.5" fill="#8a7a6c" opacity="0.58"/><rect x="816.5" y="21.9" width="0.8" height="0.9" fill="#6a4a30" opacity="0.75"/><rect x="815.5" y="24.9" width="1.7" height="1.5" fill="#6a4a30" opacity="0.89"/><rect x="815.9" y="28.9" width="1.2" height="0.9" fill="#a0948a" opacity="0.81"/><rect x="817.5" y="19.1" width="0.8" height="0.9" fill="#6a4a30" opacity="0.69"/><rect x="817.9" y="26.1" width="1.5" height="1.9" fill="#a0948a" opacity="0.53"/><rect x="816.6" y="27.1" width="0.9" height="1.5" fill="#8a7a6c" opacity="0.66"/><rect x="817.7" y="20.5" width="1.1" height="1.5" fill="#a0948a" opacity="0.99"/><rect x="817.7" y="26.2" width="1.6" height="1.5" fill="#a0948a" opacity="0.65"/><rect x="817.3" y="20.8" width="1.7" height="1.0" fill="#8a7a6c" opacity="0.58"/><rect x="816.4" y="24.4" width="1.8" height="1.2" fill="#a0948a" opacity="0.56"/><rect x="815.5" y="23.2" width="1.2" height="0.8" fill="#8a7a6c" opacity="0.71"/><rect x="817.5" y="21.5" width="1.2" height="1.3" fill="#a0948a" opacity="0.62"/><rect x="817.8" y="25.2" width="1.1" height="0.9" fill="#6a4a30" opacity="0.56"/><rect x="816.9" y="28.5" width="1.7" height="1.4" fill="#a0948a" opacity="0.92"/><rect x="816.7" y="21.6" width="1.2" height="1.6" fill="#a0948a" opacity="0.81"/><rect x="832.6" y="16.1" width="1.3" height="1.0" fill="#a0948a" opacity="0.84"/><rect x="836.8" y="15.8" width="1.5" height="1.3" fill="#a0948a" opacity="0.77"/><rect x="832.2" y="18.4" width="0.9" height="1.7" fill="#6a4a30" opacity="0.76"/><rect x="832.5" y="16.5" width="1.7" height="1.2" fill="#6a4a30" opacity="0.86"/><rect x="834.2" y="17.3" width="1.6" height="1.6" fill="#8a7a6c" opacity="0.66"/><rect x="833.5" y="16.0" width="1.4" height="1.2" fill="#6a4a30" opacity="0.88"/><rect x="834.9" y="19.8" width="0.8" height="1.1" fill="#6a4a30" opacity="0.70"/><rect x="832.3" y="19.5" width="1.3" height="1.5" fill="#6a4a30" opacity="0.93"/><rect x="835.1" y="18.4" width="0.7" height="1.6" fill="#6a4a30" opacity="0.85"/><rect x="834.4" y="16.7" width="1.6" height="1.3" fill="#a0948a" opacity="0.68"/><rect x="833.1" y="15.9" width="0.8" height="1.9" fill="#6a4a30" opacity="0.61"/><rect x="833.2" y="15.0" width="1.5" height="1.3" fill="#a0948a" opacity="0.58"/><rect x="833.8" y="14.4" width="1.5" height="1.9" fill="#6a4a30" opacity="0.92"/><rect x="831.7" y="15.7" width="1.0" height="1.3" fill="#6a4a30" opacity="0.79"/><rect x="834.9" y="16.5" width="1.7" height="1.6" fill="#8a7a6c" opacity="0.94"/><rect x="831.8" y="15.5" width="2.0" height="1.6" fill="#8a7a6c" opacity="0.90"/><rect x="834.7" y="20.2" width="1.7" height="0.8" fill="#6a4a30" opacity="0.87"/><rect x="836.4" y="17.0" width="1.0" height="1.4" fill="#a0948a" opacity="0.97"/><rect x="831.4" y="18.6" width="1.6" height="1.7" fill="#6a4a30" opacity="0.81"/><rect x="831.5" y="16.8" width="1.0" height="1.6" fill="#8a7a6c" opacity="0.74"/><rect x="835.1" y="20.2" width="1.8" height="1.4" fill="#8a7a6c" opacity="0.77"/><rect x="836.4" y="16.5" width="1.4" height="1.0" fill="#8a7a6c" opacity="0.58"/><rect x="833.5" y="17.9" width="1.5" height="0.9" fill="#6a4a30" opacity="0.85"/><rect x="833.3" y="15.5" width="1.0" height="1.4" fill="#a0948a" opacity="0.57"/><rect x="832.4" y="14.7" width="0.9" height="1.6" fill="#6a4a30" opacity="0.78"/><rect x="823.6" y="46.8" width="1.4" height="1.7" fill="#b0a69c" opacity="0.84"/><rect x="835.7" y="47.0" width="1.8" height="1.2" fill="#b0a69c" opacity="0.56"/><rect x="827.2" y="46.2" width="1.0" height="0.8" fill="#7a5a40" opacity="0.65"/><rect x="834.1" y="45.6" width="2.0" height="0.9" fill="#c0b4a8" opacity="0.73"/><rect x="825.8" y="45.4" width="0.8" height="0.7" fill="#c0b4a8" opacity="0.54"/><rect x="826.6" y="41.6" width="1.4" height="0.8" fill="#c0b4a8" opacity="0.98"/><rect x="818.4" y="44.7" width="1.1" height="1.2" fill="#9a9088" opacity="0.82"/><rect x="820.9" y="42.4" width="1.5" height="1.0" fill="#b0a69c" opacity="0.54"/><rect x="829.0" y="44.0" width="1.2" height="0.9" fill="#7a5a40" opacity="0.59"/><rect x="821.9" y="42.4" width="1.9" height="0.9" fill="#7a5a40" opacity="0.87"/><rect x="826.6" y="45.6" width="1.8" height="1.1" fill="#7a5a40" opacity="0.57"/><rect x="838.6" y="43.2" width="1.0" height="0.8" fill="#9a9088" opacity="0.78"/><rect x="821.5" y="42.5" width="1.6" height="1.9" fill="#b0a69c" opacity="0.75"/><rect x="824.2" y="44.5" width="1.1" height="1.5" fill="#9a9088" opacity="0.57"/><rect x="829.6" y="45.6" width="1.5" height="1.2" fill="#9a9088" opacity="0.93"/><rect x="823.4" y="44.7" width="1.2" height="0.7" fill="#c0b4a8" opacity="0.57"/><rect x="831.5" y="44.8" width="1.6" height="1.9" fill="#9a9088" opacity="0.72"/><rect x="823.5" y="42.1" width="1.9" height="0.9" fill="#7a5a40" opacity="0.50"/><rect x="832.3" y="42.2" width="1.4" height="1.3" fill="#7a5a40" opacity="0.76"/><rect x="821.1" y="45.5" width="1.5" height="0.9" fill="#c0b4a8" opacity="0.98"/><rect x="821.1" y="42.7" width="0.8" height="1.6" fill="#7a5a40" opacity="0.78"/><rect x="822.6" y="45.4" width="1.6" height="0.9" fill="#7a5a40" opacity="0.77"/><rect x="821.6" y="42.4" width="1.0" height="1.7" fill="#9a9088" opacity="0.57"/><rect x="821.1" y="43.4" width="1.9" height="1.2" fill="#b0a69c" opacity="0.78"/><rect x="825.8" y="45.1" width="0.9" height="1.9" fill="#9a9088" opacity="0.61"/><rect x="834.0" y="42.4" width="0.9" height="1.6" fill="#c0b4a8" opacity="0.61"/><rect x="820.5" y="45.1" width="1.6" height="1.7" fill="#9a9088" opacity="0.93"/><rect x="824.4" y="42.1" width="0.9" height="1.4" fill="#9a9088" opacity="0.81"/><rect x="837.3" y="44.0" width="1.3" height="1.6" fill="#b0a69c" opacity="0.98"/><rect x="832.0" y="46.4" width="0.8" height="1.2" fill="#9a9088" opacity="0.70"/><rect x="831.3" y="44.7" width="1.6" height="1.9" fill="#c0b4a8" opacity="0.65"/><rect x="826.9" y="42.6" width="1.9" height="1.5" fill="#b0a69c" opacity="0.78"/><rect x="838.7" y="43.1" width="0.9" height="1.7" fill="#7a5a40" opacity="0.90"/><rect x="828.9" y="44.2" width="1.0" height="1.0" fill="#7a5a40" opacity="0.86"/><rect x="838.0" y="45.1" width="0.8" height="1.4" fill="#9a9088" opacity="0.52"/><rect x="834.0" y="43.7" width="1.2" height="1.6" fill="#9a9088" opacity="0.92"/><rect x="825.5" y="44.0" width="0.7" height="0.8" fill="#7a5a40" opacity="0.59"/><rect x="822.9" y="44.0" width="1.6" height="1.2" fill="#b0a69c" opacity="0.79"/><rect x="829.0" y="47.5" width="1.7" height="1.0" fill="#c0b4a8" opacity="0.51"/><rect x="826.4" y="45.5" width="1.4" height="1.8" fill="#9a9088" opacity="0.54"/><rect x="822.0" y="42.8" width="1.5" height="1.8" fill="#b0a69c" opacity="0.85"/><rect x="823.6" y="45.0" width="1.9" height="1.4" fill="#7a5a40" opacity="0.66"/><rect x="831.4" y="47.3" width="1.5" height="0.8" fill="#b0a69c" opacity="0.91"/><rect x="828.0" y="42.8" width="1.3" height="1.9" fill="#7a5a40" opacity="0.50"/><rect x="822.9" y="43.7" width="0.7" height="1.3" fill="#9a9088" opacity="0.82"/><rect x="828.3" y="43.4" width="1.2" height="0.8" fill="#7a5a40" opacity="0.68"/><rect x="820.8" y="43.5" width="0.9" height="1.6" fill="#9a9088" opacity="0.94"/><rect x="830.5" y="42.1" width="1.5" height="1.2" fill="#7a5a40" opacity="0.90"/><rect x="829.8" y="47.2" width="0.9" height="0.8" fill="#7a5a40" opacity="0.87"/><rect x="819.5" y="44.4" width="1.2" height="1.4" fill="#c0b4a8" opacity="0.67"/><rect x="826.2" y="42.1" width="1.8" height="1.7" fill="#7a5a40" opacity="0.95"/><rect x="833.4" y="41.7" width="0.9" height="1.0" fill="#c0b4a8" opacity="0.70"/><rect x="820.6" y="46.1" width="1.9" height="1.5" fill="#b0a69c" opacity="0.65"/><rect x="825.3" y="46.9" width="1.4" height="1.9" fill="#7a5a40" opacity="0.54"/><rect x="833.2" y="47.2" width="1.5" height="1.1" fill="#7a5a40" opacity="0.99"/></g>
<g fill="none" stroke="#7a6a5c" stroke-width="0.8" opacity="0.7"><path d="M816 17 C814 22 815 28 817 32"/><path d="M831 14 C834 15 836 17 838 19"/><path d="M834.5 16 L834.5 33"/><path d="M842 35 C846 34 849 35 850 37 C849 40 847 41 844 42"/></g>
<text x="859.08" y="28.58" font-family="Liberation Sans" font-weight="bold" font-size="27.50" fill="#0b4a16" stroke="#0b4a16" stroke-width="1.3" textLength="78.24" lengthAdjust="spacingAndGlyphs" xml:space="preserve">LMIC</text>
<text x="859.02" y="38.76" font-family="Liberation Sans" font-weight="bold" font-size="9.20" fill="#3d2f2d" stroke="#3d2f2d" stroke-width="0.12" textLength="79.76" lengthAdjust="spacingAndGlyphs" xml:space="preserve">Livestock Marketing</text>
<text x="860.72" y="45.70" font-family="Liberation Sans" font-weight="bold" font-size="9.20" fill="#3d2f2d" stroke="#3d2f2d" stroke-width="0.12" textLength="74.28" lengthAdjust="spacingAndGlyphs" xml:space="preserve">Information Center</text>
<text x="353.24" y="97.90" font-family="Liberation Sans" font-weight="bold" font-size="28.30" fill="#000" textLength="254.48" lengthAdjust="spacingAndGlyphs" xml:space="preserve">MILK PRODUCTION</text>
<text x="383.74" y="129.32" font-family="Liberation Sans" font-weight="normal" font-size="24.00" fill="#000" textLength="192.08" lengthAdjust="spacingAndGlyphs" xml:space="preserve">US Total, Monthly</text>
<text x="37.20" y="147.10" font-family="Liberation Sans" font-weight="normal" font-size="20.80" fill="#000" textLength="107.40" lengthAdjust="spacingAndGlyphs" xml:space="preserve">Bil. Pounds</text>
<line x1="82.3" y1="503.50" x2="912.5" y2="503.50" stroke="#868686" stroke-width="1"/>
<line x1="82.3" y1="455.50" x2="912.5" y2="455.50" stroke="#868686" stroke-width="1"/>
<line x1="82.3" y1="408.50" x2="912.5" y2="408.50" stroke="#868686" stroke-width="1"/>
<line x1="82.3" y1="360.50" x2="912.5" y2="360.50" stroke="#868686" stroke-width="1"/>
<line x1="82.3" y1="312.50" x2="912.5" y2="312.50" stroke="#868686" stroke-width="1"/>
<line x1="82.3" y1="264.50" x2="912.5" y2="264.50" stroke="#868686" stroke-width="1"/>
<line x1="82.3" y1="217.50" x2="912.5" y2="217.50" stroke="#868686" stroke-width="1"/>
<line x1="75" y1="551.40" x2="82.3" y2="551.40" stroke="#000" stroke-width="1.3"/>
<text x="17.38" y="558.02" font-family="Liberation Sans" font-weight="normal" font-size="21.30" fill="#000" textLength="42.40" lengthAdjust="spacingAndGlyphs" xml:space="preserve">16.5</text>
<line x1="75" y1="503.66" x2="82.3" y2="503.66" stroke="#000" stroke-width="1.3"/>
<text x="17.38" y="510.28" font-family="Liberation Sans" font-weight="normal" font-size="21.30" fill="#000" textLength="42.40" lengthAdjust="spacingAndGlyphs" xml:space="preserve">17.0</text>
<line x1="75" y1="455.92" x2="82.3" y2="455.92" stroke="#000" stroke-width="1.3"/>
<text x="17.38" y="462.54" font-family="Liberation Sans" font-weight="normal" font-size="21.30" fill="#000" textLength="42.40" lengthAdjust="spacingAndGlyphs" xml:space="preserve">17.5</text>
<line x1="75" y1="408.19" x2="82.3" y2="408.19" stroke="#000" stroke-width="1.3"/>
<text x="17.38" y="414.81" font-family="Liberation Sans" font-weight="normal" font-size="21.30" fill="#000" textLength="42.40" lengthAdjust="spacingAndGlyphs" xml:space="preserve">18.0</text>
<line x1="75" y1="360.45" x2="82.3" y2="360.45" stroke="#000" stroke-width="1.3"/>
<text x="17.38" y="367.07" font-family="Liberation Sans" font-weight="normal" font-size="21.30" fill="#000" textLength="42.40" lengthAdjust="spacingAndGlyphs" xml:space="preserve">18.5</text>
<line x1="75" y1="312.71" x2="82.3" y2="312.71" stroke="#000" stroke-width="1.3"/>
<text x="17.38" y="319.33" font-family="Liberation Sans" font-weight="normal" font-size="21.30" fill="#000" textLength="42.40" lengthAdjust="spacingAndGlyphs" xml:space="preserve">19.0</text>
<line x1="75" y1="264.98" x2="82.3" y2="264.98" stroke="#000" stroke-width="1.3"/>
<text x="17.38" y="271.59" font-family="Liberation Sans" font-weight="normal" font-size="21.30" fill="#000" textLength="42.40" lengthAdjust="spacingAndGlyphs" xml:space="preserve">19.5</text>
<line x1="75" y1="217.24" x2="82.3" y2="217.24" stroke="#000" stroke-width="1.3"/>
<text x="17.38" y="223.86" font-family="Liberation Sans" font-weight="normal" font-size="21.30" fill="#000" textLength="42.40" lengthAdjust="spacingAndGlyphs" xml:space="preserve">20.0</text>
<line x1="75" y1="169.50" x2="82.3" y2="169.50" stroke="#000" stroke-width="1.3"/>
<text x="17.38" y="176.12" font-family="Liberation Sans" font-weight="normal" font-size="21.30" fill="#000" textLength="42.40" lengthAdjust="spacingAndGlyphs" xml:space="preserve">20.5</text>
<line x1="82.30" y1="551.4" x2="82.30" y2="556.5" stroke="#000" stroke-width="1.3"/>
<line x1="151.48" y1="551.4" x2="151.48" y2="556.5" stroke="#000" stroke-width="1.3"/>
<line x1="220.67" y1="551.4" x2="220.67" y2="556.5" stroke="#000" stroke-width="1.3"/>
<line x1="289.85" y1="551.4" x2="289.85" y2="556.5" stroke="#000" stroke-width="1.3"/>
<line x1="359.03" y1="551.4" x2="359.03" y2="556.5" stroke="#000" stroke-width="1.3"/>
<line x1="428.22" y1="551.4" x2="428.22" y2="556.5" stroke="#000" stroke-width="1.3"/>
<line x1="497.40" y1="551.4" x2="497.40" y2="556.5" stroke="#000" stroke-width="1.3"/>
<line x1="566.58" y1="551.4" x2="566.58" y2="556.5" stroke="#000" stroke-width="1.3"/>
<line x1="635.77" y1="551.4" x2="635.77" y2="556.5" stroke="#000" stroke-width="1.3"/>
<line x1="704.95" y1="551.4" x2="704.95" y2="556.5" stroke="#000" stroke-width="1.3"/>
<line x1="774.13" y1="551.4" x2="774.13" y2="556.5" stroke="#000" stroke-width="1.3"/>
<line x1="843.32" y1="551.4" x2="843.32" y2="556.5" stroke="#000" stroke-width="1.3"/>
<line x1="912.50" y1="551.4" x2="912.50" y2="556.5" stroke="#000" stroke-width="1.3"/>
<text x="105.00" y="576.58" font-family="Liberation Sans" font-weight="normal" font-size="13.80" fill="#000" textLength="24.30" lengthAdjust="spacingAndGlyphs" xml:space="preserve">JAN</text>
<text x="174.64" y="576.58" font-family="Liberation Sans" font-weight="normal" font-size="13.80" fill="#000" textLength="24.66" lengthAdjust="spacingAndGlyphs" xml:space="preserve">FEB</text>
<text x="239.52" y="576.58" font-family="Liberation Sans" font-weight="normal" font-size="13.80" fill="#000" textLength="33.28" lengthAdjust="spacingAndGlyphs" xml:space="preserve">MAR</text>
<text x="312.44" y="576.58" font-family="Liberation Sans" font-weight="normal" font-size="13.80" fill="#000" textLength="26.98" lengthAdjust="spacingAndGlyphs" xml:space="preserve">APR</text>
<text x="376.96" y="576.58" font-family="Liberation Sans" font-weight="normal" font-size="13.80" fill="#000" textLength="32.16" lengthAdjust="spacingAndGlyphs" xml:space="preserve">MAY</text>
<text x="449.26" y="576.58" font-family="Liberation Sans" font-weight="normal" font-size="13.80" fill="#000" textLength="26.78" lengthAdjust="spacingAndGlyphs" xml:space="preserve">JUN</text>
<text x="520.94" y="576.58" font-family="Liberation Sans" font-weight="normal" font-size="13.80" fill="#000" textLength="22.18" lengthAdjust="spacingAndGlyphs" xml:space="preserve">JUL</text>
<text x="586.38" y="576.58" font-family="Liberation Sans" font-weight="normal" font-size="13.80" fill="#000" textLength="30.48" lengthAdjust="spacingAndGlyphs" xml:space="preserve">AUG</text>
<text x="657.76" y="576.58" font-family="Liberation Sans" font-weight="normal" font-size="13.80" fill="#000" textLength="22.98" lengthAdjust="spacingAndGlyphs" xml:space="preserve">SEP</text>
<text x="725.88" y="576.58" font-family="Liberation Sans" font-weight="normal" font-size="13.80" fill="#000" textLength="26.68" lengthAdjust="spacingAndGlyphs" xml:space="preserve">OCT</text>
<text x="792.70" y="576.58" font-family="Liberation Sans" font-weight="normal" font-size="13.80" fill="#000" textLength="30.36" lengthAdjust="spacingAndGlyphs" xml:space="preserve">NOV</text>
<text x="863.95" y="576.58" font-family="Liberation Sans" font-weight="normal" font-size="13.80" fill="#000" textLength="27.85" lengthAdjust="spacingAndGlyphs" xml:space="preserve">DEC</text>
<polyline points="116.89,307.94 186.07,450.20 255.26,263.07 324.44,317.49 393.63,264.02 462.81,342.31 531.99,325.12 601.17,343.26 670.36,406.28 739.54,353.77 808.73,410.10 877.91,334.67" fill="none" stroke="#ff5050" stroke-width="12" stroke-linejoin="round" stroke-linecap="round"/>
<polyline points="116.89,304.12 186.07,390.05 255.26,249.70 324.44,303.16 393.63,254.47 462.81,347.08 531.99,321.31 601.17,322.26 670.36,381.45 739.54,335.63 808.73,405.32 877.91,337.54" fill="none" stroke="#0c1a44" stroke-width="5" stroke-linejoin="round" stroke-linecap="round" stroke-dasharray="0 10"/>
<polyline points="116.89,296.48 186.07,433.97 255.26,228.69 324.44,275.48 393.63,210.55 462.81,288.84 531.99,244.45 601.17,262.11" fill="none" stroke="#4a7ebe" stroke-width="4.8" stroke-linejoin="miter" stroke-linecap="butt"/>
<rect x="82.3" y="169.5" width="830.2" height="381.9" fill="none" stroke="#000" stroke-width="3"/>
<line x1="289.5" y1="605.5" x2="323" y2="605.5" stroke="#ff5050" stroke-width="10.5" stroke-linecap="round"/>
<text x="332.16" y="612.52" font-family="Liberation Sans" font-weight="normal" font-size="20.20" fill="#000" textLength="126.94" lengthAdjust="spacingAndGlyphs" xml:space="preserve">Avg. 2019-23</text>
<line x1="482" y1="605.6" x2="513" y2="605.6" stroke="#0c1a44" stroke-width="4.6" stroke-linecap="round" stroke-dasharray="0 10.2"/>
<text x="520.22" y="612.74" font-family="Liberation Sans" font-weight="normal" font-size="20.20" fill="#000" textLength="48.58" lengthAdjust="spacingAndGlyphs" xml:space="preserve">2024</text>
<line x1="590" y1="605.6" x2="626" y2="605.6" stroke="#4a7ebe" stroke-width="4.8" stroke-linecap="round"/>
<text x="627.86" y="612.74" font-family="Liberation Sans" font-weight="normal" font-size="20.20" fill="#000" textLength="49.58" lengthAdjust="spacingAndGlyphs" xml:space="preserve">2025</text>
<text x="42.36" y="668.90" font-family="Liberation Sans" font-weight="bold" font-size="15.30" fill="#000" textLength="197.24" lengthAdjust="spacingAndGlyphs" xml:space="preserve">Data Source:  USDA-NASS</text>
<text x="41.36" y="700.16" font-family="Liberation Sans" font-weight="bold" font-size="14.20" fill="#000" textLength="263.96" lengthAdjust="spacingAndGlyphs" xml:space="preserve">Livestock Marketing Information Center</text>
<text x="798.02" y="675.00" font-family="Liberation Sans" font-weight="normal" font-size="12.50" fill="#1a1a1a" textLength="48.80" lengthAdjust="spacingAndGlyphs" xml:space="preserve">09/22/25</text>
</svg>
</body></html>
